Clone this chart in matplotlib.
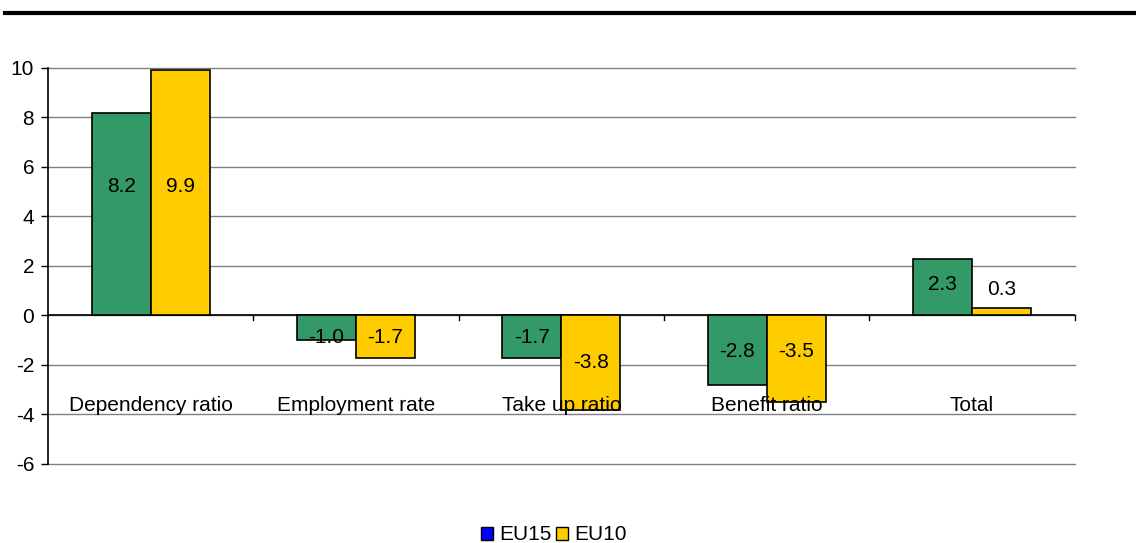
import numpy as np
import matplotlib.pyplot as plt
from matplotlib.lines import Line2D
from matplotlib.patches import Patch

plt.rcParams['font.family'] = ['Liberation Sans', 'DejaVu Sans']
plt.rcParams['axes.unicode_minus'] = False

categories = ["Dependency ratio", "Employment rate", "Take up ratio", "Benefit ratio", "Total"]
eu15 = [8.2, -1.0, -1.7, -2.8, 2.3]
eu10 = [9.9, -1.7, -3.8, -3.5, 0.3]
# where the value labels sit (data units)
eu15_label_y = [5.2, -0.9, -0.9, -1.45, 1.25]
eu10_label_y = [5.2, -0.9, -1.9, -1.45, 1.05]

green = "#339966"
yellow = "#FFCC00"
fs = 15

fig = plt.figure(figsize=(11.36, 5.43), dpi=100)
ax = fig.add_axes([0.0423, 0.1455, 0.9037, 0.7293])

x = np.arange(len(categories))
w = 0.287
ax.bar(x - w / 2, eu15, w, color=green, edgecolor="black", linewidth=1.2, zorder=3)
ax.bar(x + w / 2, eu10, w, color=yellow, edgecolor="black", linewidth=1.2, zorder=3)

for i in range(len(categories)):
    ax.text(x[i] - w / 2, eu15_label_y[i], f"{eu15[i]:.1f}", ha="center", va="center",
            fontsize=fs, zorder=4)
    ax.text(x[i] + w / 2, eu10_label_y[i], f"{eu10[i]:.1f}", ha="center", va="center",
            fontsize=fs, zorder=4)
    ax.text(x[i], -3.65, categories[i], ha="center", va="center", fontsize=fs, zorder=4)

ax.set_xlim(-0.5, len(categories) - 0.5)
ax.set_ylim(-6, 10)
ax.set_yticks(range(-6, 11, 2))
ax.tick_params(axis="y", labelsize=fs, length=5, width=1, direction="out", pad=5)
ax.set_xticks([])

for v in range(-6, 11, 2):
    ax.axhline(v, color="#808080", linewidth=1, zorder=0, clip_on=False)
for s in ["top", "right", "bottom"]:
    ax.spines[s].set_visible(False)
ax.spines["left"].set_linewidth(1.2)
ax.axhline(0, color="black", linewidth=1.2, zorder=2)
for b in np.arange(0.5, len(categories), 1.0):
    ax.plot([b, b], [0, -0.2], color="black", linewidth=1, zorder=2, clip_on=False)

# heavy rule across the top
fig.add_artist(Line2D([5 / 1136, 1.0], [1 - 13 / 543, 1 - 13 / 543], color="black",
                      linewidth=3, transform=fig.transFigure))

handles = [Patch(facecolor="#0000FF", edgecolor="black", label="EU15"),
           Patch(facecolor=yellow, edgecolor="black", label="EU10")]
fig.legend(handles=handles, loc="center", bbox_to_anchor=(0.4875, 1 - 535 / 543), ncol=2,
           frameon=False, fontsize=fs, handlelength=0.6, handleheight=0.6,
           handletextpad=0.3, columnspacing=0.2)

fig.savefig("out.png", dpi=100)
